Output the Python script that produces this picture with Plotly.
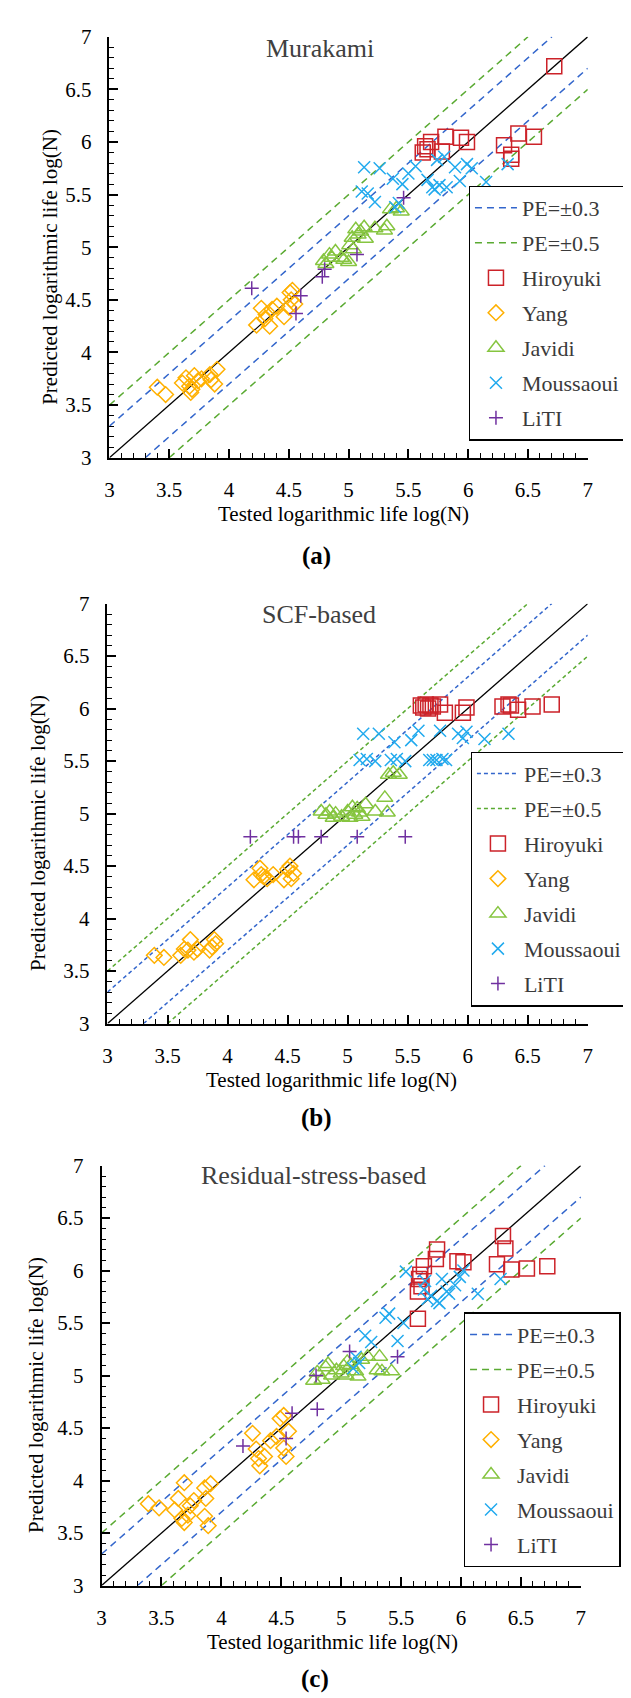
import plotly.graph_objects as go

W, H = 631, 1698
AX_RANGE = [3, 7]
TICK_VALS = [3, 3.5, 4, 4.5, 5, 5.5, 6, 6.5, 7]
TICK_TEXT = ["3", "3.5", "4", "4.5", "5", "5.5", "6", "6.5", "7"]
PE_LEVELS = [0.3, 0.5]
PE_NAMES = ["PE=±0.3", "PE=±0.5"]
SERIES = ["Hiroyuki", "Yang", "Javidi", "Moussaoui", "LiTI"]
PANEL_TITLES = ["Murakami", "SCF-based", "Residual-stress-based"]
PANEL_LABELS = ["(a)", "(b)", "(c)"]
X_TITLE = "Tested logarithmic life log(N)"
Y_TITLE = "Predicted logarithmic life log(N)"

# ---------------- panel (a) Murakami ----------------
a_hiroyuki_x = [5.62, 5.64, 5.66, 5.69, 5.78, 5.81, 5.94, 5.99, 6.30, 6.36, 6.36, 6.42, 6.55, 6.72]
a_hiroyuki_y = [5.90, 5.96, 5.93, 6.00, 5.91, 6.05, 6.04, 6.00, 5.97, 5.88, 5.84, 6.08, 6.05, 6.72]
a_yang_x = [3.40, 3.47, 3.61, 3.64, 3.67, 3.68, 3.69, 3.71, 3.74, 3.77, 3.84, 3.85, 3.88, 3.90,
            4.23, 4.27, 4.30, 4.31, 4.34, 4.36, 4.40, 4.46, 4.50, 4.51, 4.52, 4.53, 4.55]
a_yang_y = [3.67, 3.60, 3.71, 3.76, 3.68, 3.62, 3.65, 3.78, 3.73, 3.75, 3.79, 3.74, 3.70, 3.84,
            4.26, 4.42, 4.32, 4.36, 4.25, 4.41, 4.44, 4.34, 4.43, 4.57, 4.50, 4.59, 4.46]
a_javidi_x = [4.79, 4.81, 4.84, 4.86, 4.89, 4.94, 4.96, 5.00, 5.01, 5.03, 5.04, 5.06, 5.08, 5.10,
              5.13, 5.14, 5.22, 5.30, 5.32, 5.35, 5.40, 5.44]
a_javidi_y = [4.87, 4.84, 4.93, 4.90, 4.96, 4.90, 4.88, 4.86, 5.02, 5.09, 4.98, 5.17, 5.12, 5.15,
              5.19, 5.08, 5.18, 5.16, 5.20, 5.36, 5.37, 5.34]
a_moussaoui_x = [5.11, 5.13, 5.16, 5.22, 5.26, 5.37, 5.39, 5.42, 5.45, 5.50, 5.56, 5.66, 5.70, 5.72,
                 5.74, 5.76, 5.80, 5.82, 5.89, 5.93, 5.99, 6.03, 6.15, 6.33]
a_moussaoui_y = [5.53, 5.76, 5.51, 5.43, 5.75, 5.65, 5.38, 5.42, 5.60, 5.70, 5.77, 5.64, 5.57, 5.55,
                 5.83, 5.59, 5.86, 5.57, 5.76, 5.63, 5.79, 5.75, 5.62, 5.79]
a_liti_x = [4.19, 4.56, 4.60, 4.78, 4.80, 5.07, 5.46]
a_liti_y = [4.61, 4.37, 4.54, 4.72, 4.79, 4.93, 5.47]

# ---------------- panel (b) SCF-based ----------------
b_hiroyuki_x = [5.61, 5.63, 5.65, 5.67, 5.69, 5.71, 5.77, 5.81, 5.96, 5.99, 6.29, 6.34, 6.36, 6.42, 6.54, 6.70]
b_hiroyuki_y = [6.03, 6.01, 6.04, 6.00, 6.03, 6.02, 6.04, 5.96, 5.96, 6.01, 6.02, 6.04, 6.03, 5.99, 6.02, 6.04]
b_yang_x = [3.39, 3.47, 3.61, 3.64, 3.67, 3.69, 3.72, 3.75, 3.85, 3.87, 3.89, 3.90,
            4.22, 4.27, 4.28, 4.30, 4.33, 4.38, 4.47, 4.50, 4.52, 4.53, 4.55]
b_yang_y = [3.65, 3.63, 3.65, 3.71, 3.70, 3.80, 3.68, 3.71, 3.70, 3.73, 3.80, 3.76,
            4.37, 4.48, 4.42, 4.40, 4.38, 4.42, 4.37, 4.47, 4.50, 4.38, 4.43]
b_javidi_x = [4.78, 4.82, 4.85, 4.88, 4.90, 4.95, 5.00, 5.02, 5.04, 5.06, 5.08, 5.10, 5.12, 5.15,
              5.23, 5.31, 5.33, 5.34, 5.38, 5.43]
b_javidi_y = [5.02, 4.99, 5.02, 4.96, 5.00, 4.97, 5.02, 4.96, 5.06, 4.99, 5.05, 5.01, 4.97, 5.09,
              5.02, 5.15, 5.01, 5.37, 5.39, 5.37]
b_moussaoui_x = [5.10, 5.13, 5.16, 5.23, 5.26, 5.36, 5.39, 5.41, 5.48, 5.53, 5.59, 5.68, 5.71, 5.74,
                 5.77, 5.79, 5.82, 5.92, 5.96, 5.99, 6.14, 6.34]
b_moussaoui_y = [5.51, 5.76, 5.52, 5.50, 5.76, 5.51, 5.68, 5.52, 5.50, 5.70, 5.79, 5.51, 5.51, 5.51,
                 5.79, 5.52, 5.51, 5.76, 5.72, 5.78, 5.71, 5.76]
b_liti_x = [4.19, 4.55, 4.59, 4.78, 5.08, 5.48]
b_liti_y = [4.78, 4.78, 4.78, 4.78, 4.78, 4.78]

# ---------------- panel (c) Residual-stress-based ----------------
c_hiroyuki_x = [5.64, 5.64, 5.65, 5.66, 5.67, 5.69, 5.79, 5.80, 5.97, 6.02, 6.30, 6.35, 6.37, 6.42, 6.55, 6.72]
c_hiroyuki_y = [5.54, 5.80, 5.92, 5.96, 5.85, 6.04, 6.11, 6.20, 6.09, 6.08, 6.06, 6.33, 6.21, 6.01, 6.02, 6.04]
c_yang_x = [3.39, 3.48, 3.61, 3.64, 3.67, 3.69, 3.69, 3.72, 3.74, 3.77, 3.86, 3.86, 3.87, 3.89, 3.91,
            4.26, 4.29, 4.31, 4.32, 4.36, 4.41, 4.46, 4.49, 4.52, 4.52, 4.54, 4.56]
c_yang_y = [3.78, 3.74, 3.72, 3.83, 3.64, 3.98, 3.60, 3.67, 3.76, 3.81, 3.66, 3.93, 3.83, 3.57, 3.97,
            4.45, 4.30, 4.21, 4.14, 4.23, 4.38, 4.42, 4.59, 4.62, 4.31, 4.23, 4.47]
c_javidi_x = [4.77, 4.80, 4.84, 4.87, 4.89, 4.92, 4.96, 5.00, 5.02, 5.04, 5.05, 5.08, 5.12, 5.14,
              5.17, 5.22, 5.30, 5.32, 5.34, 5.42]
c_javidi_y = [4.95, 5.03, 4.96, 5.08, 5.11, 5.00, 5.05, 5.02, 5.09, 5.00, 5.13, 5.10, 5.04, 4.99,
              5.15, 5.18, 5.05, 5.18, 5.04, 5.04]
c_moussaoui_x = [5.10, 5.12, 5.15, 5.20, 5.25, 5.37, 5.40, 5.47, 5.52, 5.54, 5.69, 5.70, 5.72, 5.75,
                 5.80, 5.82, 5.84, 5.88, 5.90, 5.95, 5.99, 6.02, 6.14, 6.33]
c_moussaoui_y = [5.07, 5.18, 5.12, 5.38, 5.32, 5.55, 5.59, 5.33, 5.50, 5.99, 5.82, 5.90, 5.73, 5.76,
                 5.71, 5.69, 5.92, 5.80, 5.78, 5.86, 5.94, 6.00, 5.78, 5.92]
c_liti_x = [4.18, 4.54, 4.59, 4.79, 4.80, 5.07, 5.47]
c_liti_y = [4.33, 4.40, 4.64, 5.00, 4.68, 5.23, 5.18]

PANEL_DATA = [
    {"Hiroyuki": (a_hiroyuki_x, a_hiroyuki_y), "Yang": (a_yang_x, a_yang_y),
     "Javidi": (a_javidi_x, a_javidi_y), "Moussaoui": (a_moussaoui_x, a_moussaoui_y),
     "LiTI": (a_liti_x, a_liti_y)},
    {"Hiroyuki": (b_hiroyuki_x, b_hiroyuki_y), "Yang": (b_yang_x, b_yang_y),
     "Javidi": (b_javidi_x, b_javidi_y), "Moussaoui": (b_moussaoui_x, b_moussaoui_y),
     "LiTI": (b_liti_x, b_liti_y)},
    {"Hiroyuki": (c_hiroyuki_x, c_hiroyuki_y), "Yang": (c_yang_x, c_yang_y),
     "Javidi": (c_javidi_x, c_javidi_y), "Moussaoui": (c_moussaoui_x, c_moussaoui_y),
     "LiTI": (c_liti_x, c_liti_y)},
]

# ---------------- styles ----------------
FONT = "Liberation Serif"
SERIES_STYLE = {
    "Hiroyuki": dict(symbol="square-open", color="#CC2229", size=15),
    "Yang": dict(symbol="diamond-open", color="#FFB000", size=12),
    "Javidi": dict(symbol="triangle-up-open", color="#86C540", size=14),
    "Moussaoui": dict(symbol="x-thin", color="#22AAEE", size=12),
    "LiTI": dict(symbol="cross-thin", color="#7030A0", size=10),
}
PE_COLORS = ["#3366CC", "#5AAA32"]

# panel layout in page pixels: plot box (left, right, top, bottom)
PANELS = [
    dict(box=(98, 584, 17, 444), legend=(463, 168), title=(312, 29), label=(308, 544),
         xt=(336, 501), yt=(38, 250), dash="7px,5px"),
    dict(box=(96, 584, 592, 1018), legend=(465, 742), title=(311, 603), label=(308, 1114),
         xt=(324, 1075), yt=(26, 825), dash="4px,3px"),
    dict(box=(90, 577, 1162, 1588), legend=(458, 1311), title=(305, 1172), label=(307, 1683),
         xt=(325, 1645), yt=(24, 1395), dash="7px,5px"),
]


def px(x):
    return x / W


def py(y):
    return 1 - y / H


fig = go.Figure()
annotations = []
layout = dict(
    width=W, height=H, margin=dict(l=0, r=0, t=0, b=0),
    paper_bgcolor="white", plot_bgcolor="white",
    font=dict(family=FONT, size=20, color="black"),
)

for i, p in enumerate(PANELS):
    suf = "" if i == 0 else str(i + 1)
    xa, ya = "x" + suf, "y" + suf
    leg = "legend" + suf
    l, r, t, b = p["box"]
    axis_common = dict(
        range=AX_RANGE, showgrid=False, zeroline=False, showline=True,
        linecolor="black", linewidth=1.5, mirror=False,
        ticks="inside", ticklen=9, tickwidth=1.5, tickcolor="black",
        tickmode="array", tickvals=TICK_VALS, ticktext=TICK_TEXT,
        tickfont=dict(family=FONT, size=21, color="black"),
        minor=dict(ticks="inside", ticklen=5, tickwidth=1.3, tickcolor="black",
                   tickmode="linear", tick0=3, dtick=0.1, showgrid=False),
        fixedrange=True,
    )
    layout["xaxis" + suf] = dict(axis_common, domain=[px(l), px(r)], anchor=ya,
                                 ticklabelstandoff=12)
    layout["yaxis" + suf] = dict(axis_common, domain=[py(b), py(t)], anchor=xa,
                                 ticklabelstandoff=12)
    lx, ly = p["legend"]
    layout[leg] = dict(
        x=px(lx), y=py(ly), xanchor="left", yanchor="top",
        bgcolor="white", bordercolor="black", borderwidth=1.3,
        font=dict(family=FONT, size=22, color="#3a3a3a"),
        traceorder="grouped", tracegroupgap=3.4, itemwidth=42,
    )

    # PE bands
    for k, pe in enumerate(PE_LEVELS):
        lo, hi = AX_RANGE
        xs = [lo, hi - pe, None, lo + pe, hi]
        ys = [lo + pe, hi, None, lo, hi - pe]
        fig.add_trace(go.Scatter(
            x=xs, y=ys, mode="lines", name=PE_NAMES[k], xaxis=xa, yaxis=ya,
            legend=leg, legendgroup=f"{i}pe{k}",
            line=dict(color=PE_COLORS[k], width=1.5, dash=p["dash"]),
        ))
    # 1:1 line
    fig.add_trace(go.Scatter(
        x=AX_RANGE, y=AX_RANGE, mode="lines", showlegend=False, xaxis=xa, yaxis=ya,
        line=dict(color="black", width=1.3), hoverinfo="skip",
    ))
    for name in SERIES:
        sx, sy = PANEL_DATA[i][name]
        st = SERIES_STYLE[name]
        fig.add_trace(go.Scatter(
            x=sx, y=sy, mode="markers", name=name, xaxis=xa, yaxis=ya,
            legend=leg, legendgroup=f"{i}{name}",
            marker=dict(symbol=st["symbol"], size=st["size"], color=st["color"],
                        line=dict(color=st["color"], width=1.5)),
        ))

    tx, ty = p["title"]
    annotations.append(dict(text=PANEL_TITLES[i], x=px(tx), y=py(ty), xref="paper", yref="paper",
                            showarrow=False, xanchor="center", yanchor="middle",
                            font=dict(family=FONT, size=26, color="#404040")))
    lbx, lby = p["label"]
    annotations.append(dict(text="<b>" + PANEL_LABELS[i] + "</b>", x=px(lbx), y=py(lby),
                            xref="paper", yref="paper", showarrow=False,
                            xanchor="center", yanchor="middle",
                            font=dict(family=FONT, size=25, color="black")))
    xtx, xty = p["xt"]
    annotations.append(dict(text=X_TITLE, x=px(xtx), y=py(xty), xref="paper", yref="paper",
                            showarrow=False, xanchor="center", yanchor="middle",
                            font=dict(family=FONT, size=21, color="black")))
    ytx, yty = p["yt"]
    annotations.append(dict(text=Y_TITLE, x=px(ytx), y=py(yty), xref="paper", yref="paper",
                            showarrow=False, xanchor="center", yanchor="middle", textangle=-90,
                            font=dict(family=FONT, size=21, color="black")))

layout["annotations"] = annotations
fig.update_layout(**layout)
fig.write_html("out.html")
